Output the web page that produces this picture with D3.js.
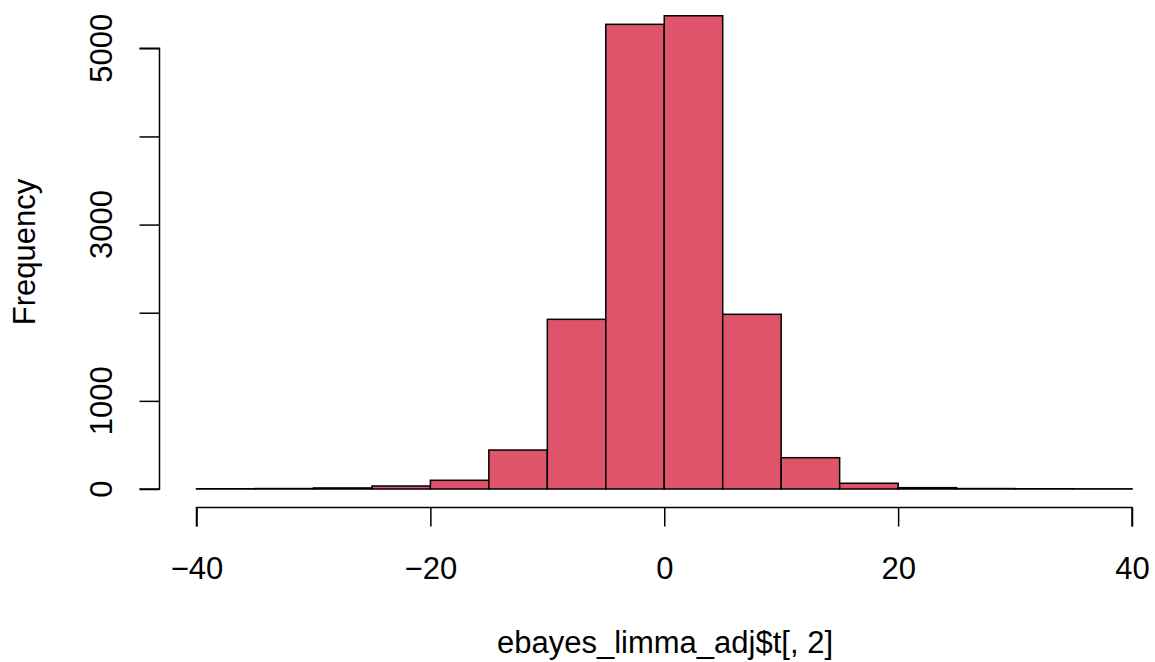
<!DOCTYPE html>
<html>
<head>
<meta charset="utf-8">
<script src="https://cdn.jsdelivr.net/npm/d3@7"></script>
<style>
  body { margin: 0; background: #fff; }
  text { font-family: "Liberation Sans", Arial, sans-serif; }
</style>
</head>
<body>
<svg id="chart"></svg>
<script>
// histogram bins (left edges) and counts
const binStarts = [-40, -35, -30, -25, -20, -15, -10, -5, 0, 5, 10, 15, 20, 25, 30, 35];
const counts = [3, 5, 12, 34, 99, 442, 1925, 5272, 5369, 1982, 355, 65, 15, 5, 3, 2];
const binWidth = 5;
const xTicks = [-40, -20, 0, 20, 40];
const yTicks = [0, 1000, 3000, 5000];
const yTicksAll = [0, 1000, 2000, 3000, 4000, 5000];

const w = 1155, h = 662;
const fs = '31px';
const svg = d3.select('#chart').attr('width', w).attr('height', h);

// scales
const x = d3.scaleLinear().domain([-40, 40]).range([196.5, 1132]);
const y = d3.scaleLinear().domain([0, 5000]).range([489, 48.3]);

// bars
svg.selectAll('.bar')
  .data(counts)
  .join('rect')
    .attr('class', 'bar')
    .attr('x', (d, i) => x(binStarts[i]))
    .attr('y', d => y(d))
    .attr('width', x(binWidth) - x(0))
    .attr('height', d => y(0) - y(d))
    .attr('fill', '#DF536B')
    .attr('stroke', '#000')
    .attr('stroke-width', 1.5);

// x axis
const xAxis = d3.axisBottom(x)
  .tickValues(xTicks)
  .tickSize(19)
  .tickPadding(30)
  .tickFormat(d => d3.format('')(d).replace('-', '\u2212'));
const gx = svg.append('g')
  .attr('transform', 'translate(0, 507.5)')
  .call(xAxis);
gx.select('.domain').attr('d', `M${x(-40)},19V0H${x(40)}V19`);

// y axis
const yAxis = d3.axisLeft(y)
  .tickValues(yTicksAll)
  .tickSize(20)
  .tickFormat('');
const gy = svg.append('g')
  .attr('transform', 'translate(159.5, 0)')
  .call(yAxis);
gy.select('.domain').attr('d', `M-20,${y(0)}H0V${y(5000)}H-20`);

[gx, gy].forEach(g => {
  g.selectAll('path, line').attr('stroke', '#000').attr('stroke-width', 1.5);
  g.selectAll('text').attr('fill', '#000').style('font-size', fs);
});

// y tick labels, rotated like R
svg.selectAll('.ylab')
  .data(yTicks)
  .join('text')
    .attr('class', 'ylab')
    .attr('transform', d => `translate(111.5, ${y(d)}) rotate(-90)`)
    .attr('text-anchor', 'middle')
    .style('font-size', fs)
    .text(d => d);

// axis titles
svg.append('text')
  .attr('x', 665)
  .attr('y', 653)
  .attr('text-anchor', 'middle')
  .style('font-size', fs)
  .text('ebayes_limma_adj$t[, 2]');

svg.append('text')
  .attr('transform', 'translate(35, 252) rotate(-90)')
  .attr('text-anchor', 'middle')
  .style('font-size', fs)
  .text('Frequency');
</script>
</body>
</html>
